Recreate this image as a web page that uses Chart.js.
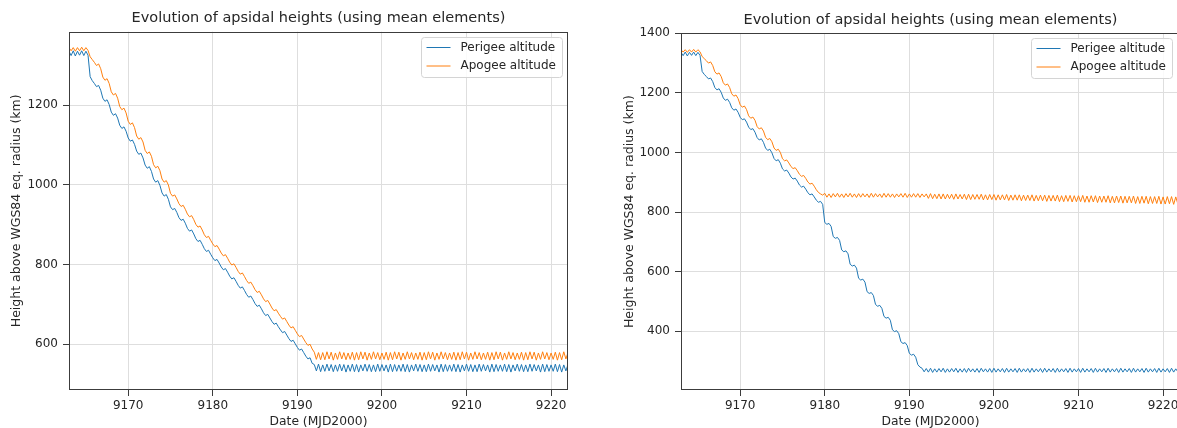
<!DOCTYPE html>
<html>
<head>
<meta charset="utf-8">
<script src="https://cdn.jsdelivr.net/npm/chart.js@4.4.0/dist/chart.umd.min.js"></script>
<style>
  html, body { margin: 0; padding: 0; background: #fff; overflow: hidden; }
  body { width: 1177px; height: 428px; position: relative; }
  .box { position: absolute; top: 0; height: 428px; }
  #leftBox { left: 0; width: 590px; }
  #rightBox { left: 590px; width: 592px; }
</style>
</head>
<body>
<div class="box" id="leftBox"><canvas id="leftChart"></canvas></div>
<div class="box" id="rightBox"><canvas id="rightChart"></canvas></div>
<script>
// samples every quarter day, starting at MJD2000 9163.0
const startDay = 9163;
const stepDays = 0.25;

const xTicks = [9170, 9180, 9190, 9200, 9210, 9220];
const seriesNames = ['Perigee altitude', 'Apogee altitude'];

// left plot (km), one row per day
const leftPerigee = [
  1336, 1325, 1337, 1324,  1336, 1326, 1337, 1325,  1336, 1326, 1272, 1262,
  1255, 1247, 1250, 1238,  1218, 1210, 1214, 1202,  1183, 1175, 1179, 1168,
  1150, 1142, 1146, 1135,  1118, 1110, 1113, 1102,  1085, 1077, 1080, 1068,
  1050, 1042, 1046, 1034,  1015, 1007, 1011, 999,   980, 972, 976, 964,
  945, 938, 941, 931,      918, 911, 914, 904,      891, 884, 887, 877,
  865, 858, 861, 851,      840, 833, 836, 826,      817, 810, 813, 804,
  794, 787, 790, 781,      771, 764, 767, 758,      748, 741, 744, 735,
  725, 718, 721, 712,      702, 695, 698, 689,      679, 672, 675, 666,
  657, 650, 653, 644,      636, 629, 632, 623,      614, 607, 610, 601,
  592, 585, 588, 579,      570, 563, 566, 552,      549, 533, 550, 531,
  548, 532, 550, 533,      549, 531, 548, 532,      550, 533, 549, 530,
  548, 532, 550, 531,      549, 530, 548, 533,      550, 532, 549, 531,
  548, 531, 550, 532,      549, 533, 548, 530,      550, 531, 549, 532,
  548, 532, 550, 531,      549, 530, 548, 533,      550, 532, 549, 531,
  548, 531, 550, 532,      549, 533, 548, 530,      550, 531, 549, 532,
  548, 532, 550, 531,      549, 530, 548, 533,      550, 532, 549, 531,
  548, 531, 550, 532,      549, 533, 548, 530,      550, 531, 549, 532,
  548, 532, 550, 531,      549, 530, 548, 533,      550, 532, 549, 531,
  548, 531, 550, 532,      549, 533, 548, 530,      550, 531, 549, 532,
  548, 532, 550, 531,      549, 530, 548, 533,
  549
];

const leftApogee = [
  1345, 1337, 1345, 1336,  1345, 1337, 1346, 1337,  1345, 1338, 1322, 1315,
  1308, 1300, 1304, 1292,  1271, 1263, 1267, 1255,  1234, 1226, 1230, 1218,
  1197, 1189, 1193, 1181,  1160, 1152, 1156, 1144,  1123, 1115, 1119, 1108,
  1087, 1079, 1083, 1072,  1051, 1043, 1047, 1036,  1015, 1007, 1011, 1000,
  979, 972, 975, 965,      953, 946, 949, 939,      927, 920, 923, 913,
  901, 894, 897, 887,      875, 868, 871, 861,      852, 845, 848, 839,
  829, 822, 825, 816,      806, 799, 802, 793,      783, 776, 779, 770,
  760, 753, 756, 747,      737, 730, 733, 724,      714, 707, 710, 701,
  691, 684, 687, 678,      670, 663, 666, 657,      648, 641, 644, 635,
  626, 619, 622, 613,      604, 597, 600, 588,      580, 562, 579, 561,
  579, 561, 581, 563,      580, 560, 578, 562,      581, 563, 579, 561,
  578, 562, 580, 560,      579, 561, 581, 563,      580, 560, 578, 562,
  581, 563, 579, 561,      578, 562, 580, 560,      579, 561, 581, 563,
  580, 560, 578, 562,      581, 563, 579, 561,      578, 562, 580, 560,
  579, 561, 581, 563,      580, 560, 578, 562,      581, 563, 579, 561,
  578, 562, 580, 560,      579, 561, 581, 563,      580, 560, 578, 562,
  581, 563, 579, 561,      578, 562, 580, 560,      579, 561, 581, 563,
  580, 560, 578, 562,      581, 563, 579, 561,      578, 562, 580, 560,
  579, 561, 581, 563,      580, 560, 578, 562,      581, 563, 579, 561,
  578, 562, 580, 560,      579, 561, 581, 563,
  579
];

// right plot (km), one row per day
const rightPerigee = [
  1336, 1325, 1337, 1324,  1336, 1326, 1337, 1325,  1336, 1326, 1272, 1262,
  1255, 1247, 1250, 1238,  1218, 1210, 1214, 1202,  1183, 1175, 1179, 1168,
  1150, 1142, 1146, 1135,  1118, 1110, 1113, 1102,  1085, 1077, 1080, 1068,
  1050, 1042, 1046, 1034,  1015, 1007, 1011, 999,   980, 972, 976, 964,
  945, 938, 941, 931,      918, 911, 914, 904,      891, 884, 887, 877,
  865, 858, 861, 851,      840, 833, 836, 826,      765, 759, 762, 752,
  718, 712, 715, 705,      673, 667, 670, 660,      625, 619, 622, 612,
  578, 572, 575, 565,      533, 527, 530, 520,      490, 484, 487, 477,
  450, 444, 447, 437,      405, 399, 402, 392,      365, 359, 362, 352,
  326, 320, 323, 313,      288, 280, 276, 264,      275, 263, 276, 262,
  274, 263, 275, 264,      276, 262, 274, 263,      275, 264, 276, 262,
  274, 263, 275, 262,      276, 264, 274, 263,      275, 262, 276, 264,
  274, 263, 275, 262,      276, 263, 274, 264,      275, 262, 276, 263,
  274, 264, 275, 262,      276, 263, 274, 264,      275, 262, 276, 263,
  274, 264, 275, 262,      276, 263, 274, 264,      275, 262, 276, 263,
  274, 264, 275, 262,      276, 263, 274, 264,      275, 262, 276, 263,
  274, 264, 275, 262,      276, 263, 274, 264,      275, 262, 276, 263,
  274, 264, 275, 262,      276, 263, 274, 264,      275, 262, 276, 263,
  274, 264, 275, 262,      276, 263, 274, 264,      275, 262, 276, 263,
  274, 264, 275, 262,      276, 263, 274, 264,
  274
];

const rightApogee = [
  1345, 1337, 1345, 1336,  1345, 1337, 1346, 1337,  1345, 1338, 1322, 1315,
  1308, 1300, 1304, 1292,  1271, 1263, 1267, 1255,  1234, 1226, 1230, 1218,
  1197, 1189, 1193, 1181,  1160, 1152, 1156, 1144,  1123, 1115, 1119, 1108,
  1087, 1079, 1083, 1072,  1051, 1043, 1047, 1036,  1015, 1007, 1011, 1000,
  979, 972, 975, 965,      953, 946, 949, 939,      927, 920, 923, 913,
  901, 894, 897, 887,      875, 866, 861, 857,      863, 850, 861, 849,
  862, 851, 863, 850,      861, 849, 862, 851,      863, 850, 861, 849,
  862, 850, 862, 851,      861, 849, 863, 850,      862, 851, 861, 849,
  863, 850, 862, 850,      861, 849, 861, 851,      862, 850, 863, 849,
  861, 850, 862, 850,      862, 849, 861, 851,      861, 846, 862, 845,
  860, 845, 861, 844,      861, 844, 860, 845,      860, 843, 861, 844,
  859, 844, 860, 842,      860, 842, 859, 843,      859, 843, 860, 841,
  858, 841, 859, 842,      859, 840, 858, 841,      858, 841, 859, 839,
  857, 840, 858, 840,      858, 838, 857, 839,      857, 839, 858, 837,
  856, 838, 857, 838,      857, 836, 856, 837,      856, 837, 857, 835,
  855, 835, 856, 836,      856, 834, 855, 835,      855, 835, 856, 833,
  854, 833, 855, 834,      855, 832, 854, 833,      854, 833, 855, 831,
  853, 831, 854, 832,      854, 830, 853, 831,      853, 831, 854, 829,
  852, 829, 853, 830,      853, 828, 852, 829,      852, 829, 853, 827,
  851, 827, 852, 828,      852, 826, 851, 827,
  851
];

const FONT = 'DejaVu Sans';
const TEXT = '#262626';

function toPoints(values) {
  return values.map((v, i) => ({ x: startDay + i * stepDays, y: v }));
}

// frame round the axes + matplotlib style legend box
const framePlugin = {
  id: 'frame',
  afterDraw(chart, args, opts) {
    const { ctx, chartArea: a } = chart;
    ctx.save();
    ctx.strokeStyle = '#3c3c3c';
    ctx.lineWidth = 1;
    ctx.strokeRect(Math.round(a.left) + 0.5, Math.round(a.top) + 0.5,
                   Math.round(a.width) - 1, Math.round(a.height) - 1);

    const w = 141, h = 40;
    const bx = Math.round(a.right - opts.inset - w) + 0.5;
    const by = Math.round(a.top + 5) + 0.5;
    ctx.fillStyle = 'rgba(255,255,255,0.85)';
    ctx.strokeStyle = '#d4d4d4';
    ctx.beginPath();
    ctx.roundRect(bx, by, w, h, 3);
    ctx.fill();
    ctx.stroke();

    ctx.font = '12px "' + FONT + '"';
    ctx.textBaseline = 'middle';
    chart.data.datasets.forEach((ds, i) => {
      const y = by + 10 + i * 18.5;
      ctx.strokeStyle = ds.borderColor;
      ctx.lineWidth = 1;
      ctx.beginPath();
      ctx.moveTo(bx + 5, y);
      ctx.lineTo(bx + 29, y);
      ctx.stroke();
      ctx.fillStyle = TEXT;
      ctx.fillText(ds.label, bx + 39, y);
    });
    ctx.restore();
  }
};

function makeChart(id, perigee, apogee, opt) {
  const ctx = document.getElementById(id).getContext('2d');
  return new Chart(ctx, {
    type: 'line',
    data: {
      datasets: [
        { label: seriesNames[0], data: toPoints(perigee), borderColor: '#1f77b4', order: 1 },
        { label: seriesNames[1], data: toPoints(apogee), borderColor: '#ff7f0e', order: 0 }
      ]
    },
    options: {
      responsive: true,
      maintainAspectRatio: false,
      animation: false,
      events: [],
      layout: { padding: { left: 0, top: 0, right: opt.padRight, bottom: 0 } },
      elements: {
        line: { borderWidth: 1, tension: 0 },
        point: { radius: 0 }
      },
      scales: {
        x: {
          type: 'linear',
          min: 9163,
          max: 9222,
          afterFit: s => { s.height = 38; },
          afterBuildTicks: s => { s.ticks = xTicks.map(v => ({ value: v })); },
          grid: { color: '#dedede', tickColor: '#3c3c3c', tickLength: 6 },
          border: { display: false },
          ticks: {
            color: TEXT, font: { family: FONT, size: 12 }, padding: 3, maxRotation: 0,
            callback: v => String(v)
          },
          title: {
            display: true, text: 'Date (MJD2000)', color: TEXT,
            font: { family: FONT, size: 12.3, lineHeight: 1 }, padding: { top: 0, bottom: 0 }
          }
        },
        y: {
          min: opt.yMin,
          max: opt.yMax,
          afterFit: s => { s.width = opt.yWidth; },
          afterBuildTicks: s => { s.ticks = opt.yTicks.map(v => ({ value: v })); },
          grid: { color: '#dedede', tickColor: '#3c3c3c', tickLength: 6 },
          border: { display: false },
          ticks: {
            color: TEXT, font: { family: FONT, size: 12 }, padding: 5,
            callback: v => String(v)
          },
          title: {
            display: true, text: 'Height above WGS84 eq. radius (km)', color: TEXT,
            font: { family: FONT, size: 12.5 }, padding: { top: opt.yTitlePad, bottom: 0 }
          }
        }
      },
      plugins: {
        legend: { display: false },
        tooltip: { enabled: false },
        title: {
          display: true,
          fullSize: false,
          text: 'Evolution of apsidal heights (using mean elements)',
          color: TEXT,
          font: { family: FONT, size: 14.5, weight: 'normal' },
          padding: { top: opt.titleTop, bottom: opt.titleBottom }
        },
        frame: { inset: opt.legendInset }
      }
    },
    plugins: [framePlugin]
  });
}

makeChart('leftChart', leftPerigee, leftApogee, {
  yMin: 485, yMax: 1385, yTicks: [600, 800, 1000, 1200],
  yWidth: 69, yTitlePad: 9, padRight: 22,
  titleTop: 9.3, titleBottom: 5, legendInset: 6
});

makeChart('rightChart', rightPerigee, rightApogee, {
  yMin: 203, yMax: 1400, yTicks: [400, 600, 800, 1000, 1200, 1400],
  yWidth: 91, yTitlePad: 32.5, padRight: 2,
  titleTop: 11.3, titleBottom: 4.6, legendInset: 8
});
</script>
</body>
</html>
